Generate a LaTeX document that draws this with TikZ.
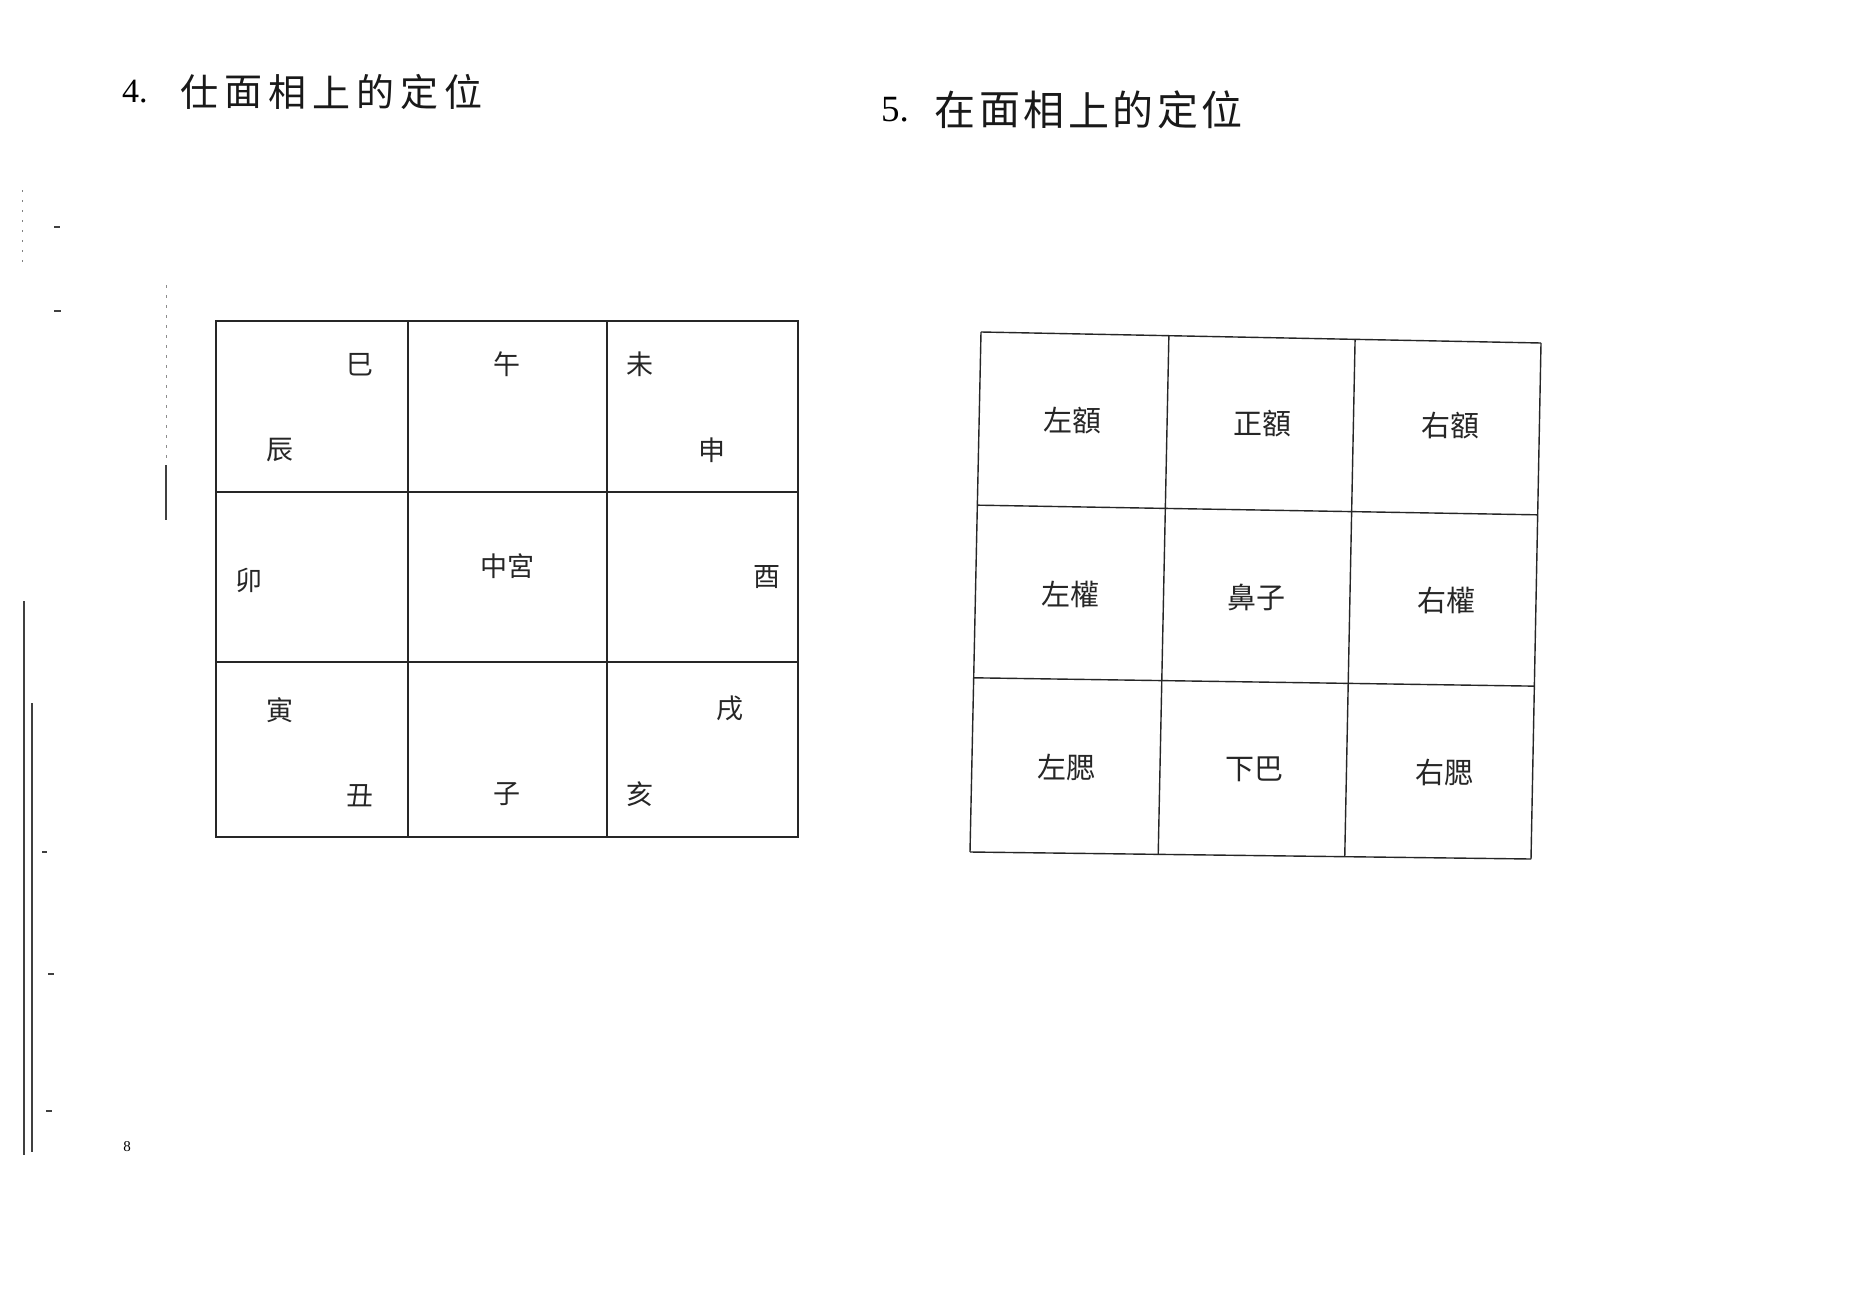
\documentclass[tikz,border=0pt]{standalone}
\usepackage{fontspec}
\newfontfamily\cjk{Noto Sans CJK TC}
\newfontfamily\numfont{Liberation Serif}
\usetikzlibrary{calc}
\begin{document}
\begin{tikzpicture}[x=1pt,y=-1pt,
  gridline/.style={line width=1.4pt, black!85},
  lbl/.style={font=\cjk\fontsize{27}{27}\selectfont, inner sep=0pt, text=black!85},
  rlbl/.style={font=\cjk\fontsize{29}{29}\selectfont, inner sep=0pt, text=black!85},
  ttl/.style={font=\cjk\fontsize{38}{38}\selectfont, inner sep=0pt, text=black!90},
  num/.style={font=\numfont\fontsize{34}{34}\selectfont, inner sep=0pt, anchor=west},
  scan/.style={black!75}]
\useasboundingbox[fill=white] (0,0) rectangle (1860,1314);

% ---- titles ----
\node[num] (t4n) at (122,92) {4.};
\foreach \c [count=\i from 0] in {仕,面,相,上,的,定,位}
  \node[ttl] (t4c\i) at ({199+44*\i},92) {\c};
\node[num, font=\numfont\fontsize{37}{37}\selectfont] (t5n) at (881,110) {5.};
\foreach \c [count=\i from 0] in {在,面,相,上,的,定,位}
  \node[ttl, font=\cjk\fontsize{41}{41}\selectfont] (t5c\i) at ({955+44.5*\i},110) {\c};

% ---- left grid ----
\coordinate (LTL) at (216,321);
\coordinate (LBR) at (798,837);
\draw[gridline] (LTL) rectangle (LBR);
\draw[gridline] (408,321) -- (408,837);
\draw[gridline] (607,321) -- (607,837);
\draw[gridline] (216,492) -- (798,492);
\draw[gridline] (216,662) -- (798,662);

\node[lbl] (si) at (360,365) {巳};
\node[lbl] (wu) at (507,364) {午};
\node[lbl] (wei) at (640,364) {未};
\node[lbl] (chen) at (280,450) {辰};
\node[lbl] (shen) at (712,450) {申};
\node[lbl] (mao) at (249,580) {卯};
\node[lbl] (zg) at (507,566) {中宮};
\node[lbl] (you) at (767,577) {酉};
\node[lbl] (yin) at (280,710) {寅};
\node[lbl] (xu) at (730,708) {戌};
\node[lbl] (chou) at (360,796) {丑};
\node[lbl] (zi) at (507,794) {子};
\node[lbl] (hai) at (640,794) {亥};

% ---- right grid (slightly skewed) ----
\coordinate (TL) at (981,332);
\coordinate (TR) at (1541,343);
\coordinate (BL) at (970,852);
\coordinate (BR) at (1531,859);
\foreach \u [count=\k] in {0,0.3355,0.668,1} {
  \coordinate (CT\k) at ($(TL)!\u!(TR)$);
  \coordinate (CB\k) at ($(BL)!\u!(BR)$);
  \draw[gridline] (CT\k) -- (CB\k);
}
\foreach \v [count=\k] in {0,0.333,0.665,1} {
  \coordinate (RL\k) at ($(TL)!\v!(BL)$);
  \coordinate (RR\k) at ($(TR)!\v!(BR)$);
  \draw[gridline] (RL\k) -- (RR\k);
}

\node[rlbl] (ze) at (1072,421) {左額};
\node[rlbl] (zhe) at (1262,424) {正額};
\node[rlbl] (ye) at (1450,426) {右額};
\node[rlbl] (zq) at (1070,594) {左權};
\node[rlbl] (bz) at (1256,597) {鼻子};
\node[rlbl] (yq) at (1446,600) {右權};
\node[rlbl] (zs) at (1066,767) {左腮};
\node[rlbl] (xb) at (1254,769) {下巴};
\node[rlbl] (ys) at (1444,772) {右腮};

% ---- page number ----
\node[font=\numfont\fontsize{15}{15}\selectfont, inner sep=0pt] (pg) at (127,1147) {8};

% ---- scan marks on left margin ----
\draw[scan, line width=1.3pt] (24,601) -- (24,1155);
\draw[scan, line width=2.2pt] (32,703) -- (32,1152);
\draw[black!45, line width=1pt, dash pattern=on 3pt off 7pt] (166,285) -- (166,465);
\draw[scan, line width=2pt] (166,465) -- (166,520);
\draw[black!50, line width=1pt, dash pattern=on 2pt off 8pt] (22,190) -- (22,265);
\draw[scan, line width=1.5pt] (54,227) -- (60,227);
\draw[scan, line width=1.5pt] (54,311) -- (61,311);
\draw[scan, line width=1.5pt] (42,852) -- (47,852);
\draw[scan, line width=1.5pt] (48,974) -- (54,974);
\draw[scan, line width=1.5pt] (46,1111) -- (52,1111);
\end{tikzpicture}
\end{document}
